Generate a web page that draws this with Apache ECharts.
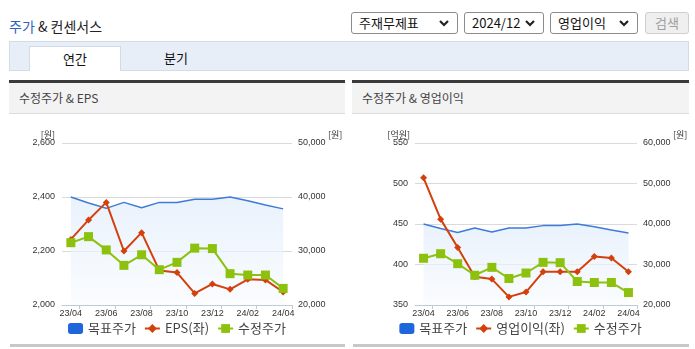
<!DOCTYPE html>
<html><head><meta charset="utf-8">
<script src="https://cdn.jsdelivr.net/npm/echarts@6/dist/echarts.min.js"></script>
<style>
body{margin:0;width:695px;height:349px;overflow:hidden;background:#fff;position:relative;font-family:'Noto Sans CJK KR','Liberation Sans',sans-serif;color:#222;}
.a{position:absolute;box-sizing:border-box;}
.sel{top:12px;height:22px;border:1px solid #8c8c8c;border-radius:3px;font-size:13px;line-height:20px;padding-left:7px;color:#111;background:#fff;}
.sel svg{position:absolute;right:8px;top:7px;}
.ph{top:80px;height:34px;border-top:3px solid #3a3a3a;background:#f3f3f3;border-bottom:1px solid #dcdcdc;font-size:12px;line-height:30px;padding-left:10px;color:#444;}
.bar{top:344px;height:3px;background:#c8c8c8;}
</style></head><body>
<div class="a" style="left:9px;top:17px;font-size:14px;line-height:18px;"><span style="color:#2f5fc4">주가</span> <span style="color:#222">&amp; 컨센서스</span></div>
<div class="a sel" style="left:351px;width:107px;">주재무제표<svg width="10" height="7"><polyline points="1,1 5,5 9,1" fill="none" stroke="#222" stroke-width="2.2"/></svg></div>
<div class="a sel" style="left:464px;width:80px;">2024/12<svg width="10" height="7"><polyline points="1,1 5,5 9,1" fill="none" stroke="#222" stroke-width="2.2"/></svg></div>
<div class="a sel" style="left:550px;width:88px;">영업이익<svg width="10" height="7"><polyline points="1,1 5,5 9,1" fill="none" stroke="#222" stroke-width="2.2"/></svg></div>
<div class="a" style="left:645px;top:12px;width:44px;height:22px;border:1px solid #cfcfcf;border-radius:3px;background:#efefef;color:#a0a0a0;font-size:13px;line-height:20px;text-align:center;">검색</div>
<div class="a" style="left:9px;top:41px;width:680px;height:30px;background:#e8eef8;border:1px solid #d3dbe6;"></div>
<div class="a" style="left:29px;top:46px;width:92px;height:25px;background:#fff;border:1px solid #d3dbe6;border-bottom:none;font-size:13px;line-height:23px;text-align:center;color:#111;">연간</div>
<div class="a" style="left:150px;top:46px;width:52px;height:25px;font-size:13px;line-height:23px;text-align:center;color:#111;">분기</div>
<div class="a ph" style="left:9px;width:336px;">수정주가 &amp; EPS</div>
<div class="a ph" style="left:352px;width:337px;">수정주가 &amp; 영업이익</div>
<div class="a bar" style="left:10px;width:335px;"></div>
<div class="a bar" style="left:353px;width:336px;"></div>
<div id="c1" class="a" style="left:9px;top:114px;width:336px;height:229px;"></div>
<div id="c2" class="a" style="left:352px;top:114px;width:337px;height:229px;"></div>
<script>
const categories = ['23/04','23/05','23/06','23/07','23/08','23/09','23/10','23/11','23/12','24/01','24/02','24/03','24/04'];
const targetPrice = [40000, 38900, 37900, 39000, 38000, 39000, 39000, 39600, 39600, 40000, 39300, 38500, 37800];
const adjPrice = [31540, 32660, 30200, 27340, 29300, 26540, 27900, 30530, 30450, 25800, 25550, 25550, 23070];
const eps = [2243, 2315, 2380, 2200, 2268, 2128, 2120, 2043, 2078, 2058, 2095, 2093, 2048];
const opProfit = [507, 456, 421, 385, 382, 360, 366, 391, 391, 391, 410, 408, 391];
const epsAxis = [2000, 2600, 200];
const opAxis = [350, 550, 50];
const priceAxis1 = [20000, 50000, 10000];
const priceAxis2 = [20000, 60000, 10000];
const legendNames1 = ['목표주가', 'EPS(좌)', '수정주가'];
const legendNames2 = ['목표주가', '영업이익(좌)', '수정주가'];

const FONT = "'Liberation Sans', 'Noto Sans CJK KR', sans-serif";
const KFONT = "'Noto Sans CJK KR', 'Liberation Sans', sans-serif";

function build(names, leftVals, leftAxis, leftUnit, rightAxis, gridLeft, gridRight, leftNamePad) {
  const yLabel = {fontSize: 9, color: '#333', fontFamily: FONT};
  return {
    animation: false,
    textStyle: {fontFamily: KFONT},
    grid: {left: gridLeft, right: gridRight, top: 29, bottom: 38, outerBoundsMode: 'none', containLabel: false},
    legend: {
      top: 203, left: 'center', itemWidth: 15, itemHeight: 11, itemGap: 8,
      textStyle: {fontSize: 13, color: '#444', fontFamily: KFONT},
      data: [
        {name: names[0], icon: 'roundRect', itemStyle: {color: '#1e66dc'}},
        {name: names[1]},
        {name: names[2]}
      ]
    },
    xAxis: {
      type: 'category', data: categories, boundaryGap: true,
      axisLine: {show: true, lineStyle: {color: '#bfcbdb', width: 1}},
      axisTick: {show: true, length: 4, interval: function (i) { return i % 2 === 1; }, lineStyle: {color: '#bfcbdb'}},
      axisLabel: {interval: 1, fontSize: 9, color: '#333', margin: 4, fontFamily: FONT},
      splitLine: {show: false}
    },
    yAxis: [
      {
        type: 'value', min: leftAxis[0], max: leftAxis[1], interval: leftAxis[2],
        name: leftUnit, nameLocation: 'end', nameGap: 4,
        nameTextStyle: {fontSize: 9, color: '#333', align: 'right', verticalAlign: 'bottom', padding: [0, leftNamePad, 0, 0], fontFamily: KFONT},
        axisLine: {show: false}, axisTick: {show: false},
        axisLabel: Object.assign({margin: 7}, yLabel),
        splitLine: {show: true, lineStyle: {color: '#dadada', width: 1}}
      },
      {
        type: 'value', min: rightAxis[0], max: rightAxis[1], interval: rightAxis[2],
        name: '[원]', nameLocation: 'end', nameGap: 4,
        nameTextStyle: {fontSize: 9, color: '#333', align: 'left', verticalAlign: 'bottom', padding: [0, 0, 0, 36], fontFamily: KFONT},
        axisLine: {show: false}, axisTick: {show: false},
        axisLabel: Object.assign({margin: 6}, yLabel),
        splitLine: {show: false}
      }
    ],
    series: [
      {
        name: names[0], type: 'line', yAxisIndex: 1, data: targetPrice,
        symbol: 'none', lineStyle: {color: '#3f7bd8', width: 1.5}, itemStyle: {color: '#3f7bd8'},
        areaStyle: {color: {type: 'linear', x: 0, y: 0, x2: 0, y2: 1, colorStops: [{offset: 0, color: '#dfebfa'}, {offset: 1, color: '#f8fbfe'}]}},
        z: 1
      },
      {
        name: names[1], type: 'line', yAxisIndex: 0, data: leftVals,
        symbol: 'diamond', symbolSize: 7, showAllSymbol: true,
        lineStyle: {color: '#d4400c', width: 2}, itemStyle: {color: '#d4400c'}, z: 2
      },
      {
        name: names[2], type: 'line', yAxisIndex: 1, data: adjPrice,
        symbol: 'rect', symbolSize: 9, showAllSymbol: true,
        lineStyle: {color: '#8cc20e', width: 2}, itemStyle: {color: '#8cc20e'}, z: 3
      }
    ]
  };
}

const c1 = echarts.init(document.getElementById('c1'), null, {renderer: 'canvas'});
c1.setOption(build(legendNames1, eps, epsAxis, '[원]', priceAxis1, 53, 53, 7));
const c2 = echarts.init(document.getElementById('c2'), null, {renderer: 'canvas'});
c2.setOption(build(legendNames2, opProfit, opAxis, '[억원]', priceAxis2, 63, 52, 5));
</script>
</body></html>
